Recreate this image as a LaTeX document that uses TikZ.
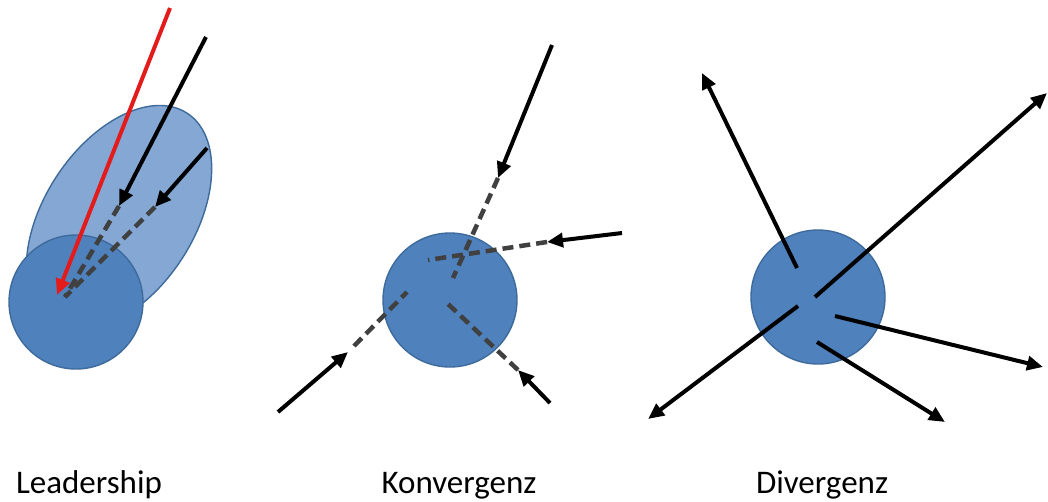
\documentclass[tikz,border=0pt]{standalone}
\usepackage{fontspec}
\setmainfont{Carlito}
\usetikzlibrary{arrows.meta,shapes.geometric}
\definecolor{ballfill}{HTML}{4F81BD}
\definecolor{balledge}{HTML}{3E6A9C}
\definecolor{halofill}{HTML}{84A7D3}
\definecolor{trail}{HTML}{404040}
\definecolor{leadred}{HTML}{E31B1B}
\tikzset{
  ball/.style={circle, fill=ballfill, draw=balledge, line width=1.4pt, minimum size=134pt, inner sep=0pt},
  halo/.style={ellipse, fill=halofill, draw=balledge, line width=1.4pt, minimum width=250pt, minimum height=150pt, inner sep=0pt},
  force/.style={line width=4pt, -{Triangle[length=16pt,width=14pt]}},
  trailline/.style={trail, line width=4.5pt, dash pattern=on 11pt off 6pt},
  caption/.style={font=\fontsize{33}{38}\selectfont, anchor=base}
}
\begin{document}
\begin{tikzpicture}[x=1pt,y=-1pt]
\useasboundingbox (0,0) rectangle (1048,501);

% ---------- Leadership ----------
\node[halo, rotate=57] (lhalo) at (119,218) {};
\node[ball] (lball) at (76,302) {};
\coordinate (lr0) at (170,8);   \coordinate (lr1) at (57,295);
\coordinate (la0) at (206,37);  \coordinate (la1) at (119,206);
\coordinate (lb0) at (207,148); \coordinate (lb1) at (155,207);
\coordinate (lc)  at (65,297);
\draw[trailline] (la1) -- (lc);
\draw[trailline] (lb1) -- (lc);
\draw[force] (la0) -- (la1);
\draw[force] (lb0) -- (lb1);
\draw[force, leadred] (lr0) -- (lr1);
\node[caption] (lcap) at (89,493) {Leadership};

% ---------- Konvergenz ----------
\node[ball] (kball) at (450,300) {};
\coordinate (kt0) at (552,45);  \coordinate (kt1) at (498,178); \coordinate (kt2) at (453,278);
\coordinate (kr0) at (622,233); \coordinate (kr1) at (547,242); \coordinate (kr2) at (428,260);
\coordinate (kl0) at (278,412); \coordinate (kl1) at (348,352); \coordinate (kl2) at (407,292);
\coordinate (kd0) at (550,403); \coordinate (kd1) at (518,370); \coordinate (kd2) at (447,303);
\coordinate (kl1b) at (354,346);
\draw[trailline] (kt1) -- (kt2);
\draw[trailline] (kr1) -- (kr2);
\draw[trailline] (kl1b) -- (kl2);
\draw[trailline] (kd1) -- (kd2);
\draw[force] (kt0) -- (kt1);
\draw[force] (kr0) -- (kr1);
\draw[force] (kl0) -- (kl1);
\draw[force] (kd0) -- (kd1);
\node[caption] (kcap) at (459,493) {Konvergenz};

% ---------- Divergenz ----------
\node[ball] (dball) at (818,297) {};
\coordinate (dn0) at (797,268); \coordinate (dn1) at (702,73);
\coordinate (de0) at (815,297); \coordinate (de1) at (1047,93);
\coordinate (dw0) at (798,306); \coordinate (dw1) at (648,419);
\coordinate (dr0) at (835,316); \coordinate (dr1) at (1043,367);
\coordinate (ds0) at (817,342); \coordinate (ds1) at (945,422);
\draw[force] (dn0) -- (dn1);
\draw[force] (de0) -- (de1);
\draw[force] (dw0) -- (dw1);
\draw[force] (dr0) -- (dr1);
\draw[force] (ds0) -- (ds1);
\node[caption] (dcap) at (822,493) {Divergenz};
\end{tikzpicture}
\end{document}
